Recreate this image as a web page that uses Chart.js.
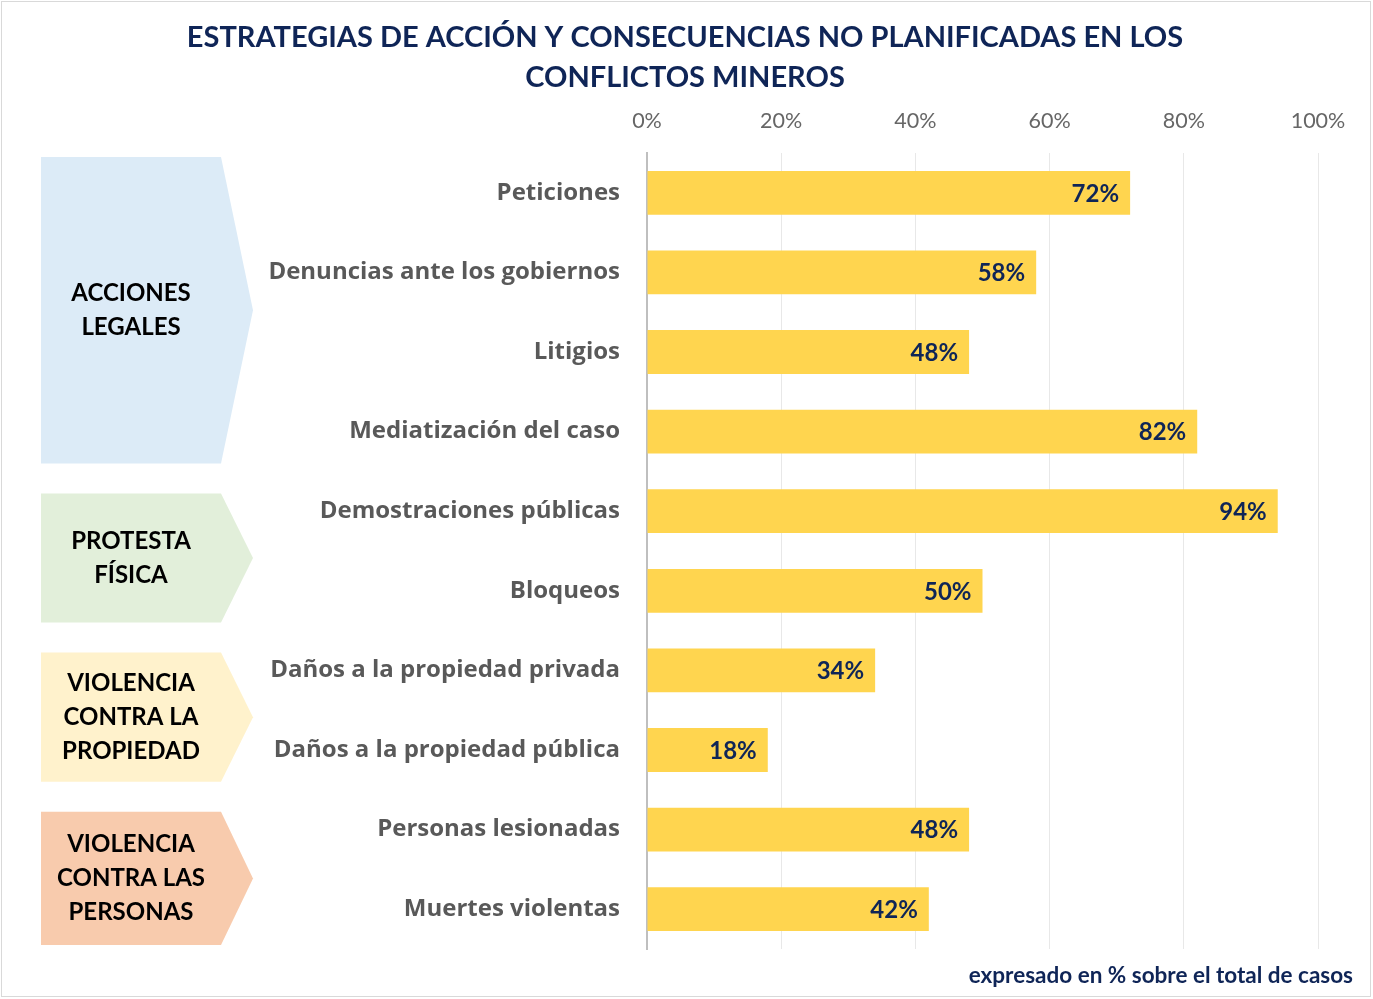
<!DOCTYPE html>
<html lang="es">
<head>
    <meta charset="UTF-8">
    <title>Estrategias de acción</title>
    <script src="https://cdn.jsdelivr.net/npm/chart.js"></script>
    <style>
        body, html {
            margin: 0;
            background-color: #fff;
        }
        .chart-container {
            position: relative;
            width: 1373px;
            height: 999px;
        }
    </style>
</head>
<body>
<div class="chart-container">
    <canvas id="myBarChart"></canvas>
</div>
<script>
    // data
    const categories = [
        'Peticiones',
        'Denuncias ante los gobiernos',
        'Litigios',
        'Mediatización del caso',
        'Demostraciones públicas',
        'Bloqueos',
        'Daños a la propiedad privada',
        'Daños a la propiedad pública',
        'Personas lesionadas',
        'Muertes violentas'
    ];
    const values = [72, 58, 48, 82, 94, 50, 34, 18, 48, 42];
    const tickValues = [0, 20, 40, 60, 80, 100];

    // groups on the left (index ranges into categories)
    const groupLabels = [
        ['ACCIONES', 'LEGALES'],
        ['PROTESTA', 'FÍSICA'],
        ['VIOLENCIA', 'CONTRA LA', 'PROPIEDAD'],
        ['VIOLENCIA', 'CONTRA LAS', 'PERSONAS']
    ];
    const groupFirst = [0, 4, 6, 8];
    const groupLast = [3, 5, 7, 9];
    const groupColors = ['#dcebf7', '#e2efda', '#fff2cc', '#f8cbad'];

    const titleLines = [
        'ESTRATEGIAS DE ACCIÓN Y CONSECUENCIAS NO PLANIFICADAS EN LOS',
        'CONFLICTOS MINEROS'
    ];
    const footNote = 'expresado en % sobre el total de casos';

    const FONT = 'Lato, "Open Sans", sans-serif';
    const LABEL_FONT = '"Open Sans", Lato, sans-serif';
    const NAVY = '#0f2557';

    const extrasPlugin = {
        id: 'extras',
        afterDatasetsDraw(chart) {
            const ctx = chart.ctx;
            const meta = chart.getDatasetMeta(0);
            ctx.save();
            ctx.font = 'bold 24px ' + FONT;
            ctx.fillStyle = NAVY;
            ctx.textAlign = 'right';
            ctx.textBaseline = 'middle';
            meta.data.forEach((bar, i) => {
                ctx.fillText(values[i] + '%', bar.x - 11, bar.y + 1);
            });
            ctx.restore();
        },
        afterDraw(chart) {
            const ctx = chart.ctx;
            const y = chart.scales.y;
            const area = chart.chartArea;
            ctx.save();

            // outer frame
            ctx.strokeStyle = '#d9d9d9';
            ctx.lineWidth = 1;
            ctx.strokeRect(1.5, 1.5, 1369, 995);

            // title
            ctx.fillStyle = NAVY;
            ctx.font = 'bold 29px ' + FONT;
            ctx.textAlign = 'center';
            ctx.textBaseline = 'middle';
            titleLines.forEach((t, i) => ctx.fillText(t, 685, 38 + i * 40));

            // footnote
            ctx.font = 'bold 22.5px ' + FONT;
            ctx.textAlign = 'right';
            ctx.fillText(footNote, 1353, 976);

            // chevrons
            groupLabels.forEach((lines, g) => {
                const top = g === 0 ? area.top + 4 : y.getPixelForValue(groupFirst[g] - 0.5) + 22;
                const bottom = g === groupLabels.length - 1 ? area.bottom - 4 : y.getPixelForValue(groupLast[g] + 0.5) - 8;
                const mid = (top + bottom) / 2;
                ctx.fillStyle = groupColors[g];
                ctx.beginPath();
                ctx.moveTo(41, top);
                ctx.lineTo(221, top);
                ctx.lineTo(253, mid);
                ctx.lineTo(221, bottom);
                ctx.lineTo(41, bottom);
                ctx.closePath();
                ctx.fill();

                ctx.fillStyle = '#000';
                ctx.font = 'bold 24px ' + FONT;
                ctx.textAlign = 'center';
                ctx.textBaseline = 'middle';
                const lh = 34;
                const start = mid - (lines.length - 1) * lh / 2;
                lines.forEach((l, k) => ctx.fillText(l, 131, start + k * lh));
            });
            ctx.restore();
        }
    };

    const ctxBar = document.getElementById('myBarChart').getContext('2d');
    const myBarChart = new Chart(ctxBar, {
        type: 'bar',
        data: {
            labels: categories,
            datasets: [{
                data: values,
                backgroundColor: '#ffd54f',
                borderWidth: 0,
                barPercentage: 0.55,
                categoryPercentage: 1
            }]
        },
        options: {
            indexAxis: 'y',
            responsive: true,
            maintainAspectRatio: false,
            animation: false,
            layout: {
                padding: { top: 98, right: 55, bottom: 50, left: 0 }
            },
            plugins: {
                legend: { display: false },
                title: { display: false },
                tooltip: { enabled: false }
            },
            scales: {
                x: {
                    position: 'top',
                    min: 0,
                    max: 100,
                    afterBuildTicks: (scale) => {
                        scale.ticks = tickValues.map(v => ({ value: v }));
                    },
                    afterFit: (scale) => { scale.height = 55; },
                    ticks: {
                        callback: (v) => v + '%',
                        color: '#666',
                        font: { family: FONT, size: 21.5 },
                        padding: 19
                    },
                    grid: {
                        color: '#e8e8e8',
                        drawTicks: false
                    },
                    border: { display: false }
                },
                y: {
                    afterFit: (scale) => { scale.width = 647; },
                    ticks: {
                        color: '#595959',
                        font: { family: LABEL_FONT, size: 24, weight: 'bold' },
                        padding: 27
                    },
                    grid: { display: false, drawTicks: false },
                    border: { display: true, color: '#bfbfbf', width: 2 }
                }
            }
        },
        plugins: [extrasPlugin]
    });
</script>
</body>
</html>
